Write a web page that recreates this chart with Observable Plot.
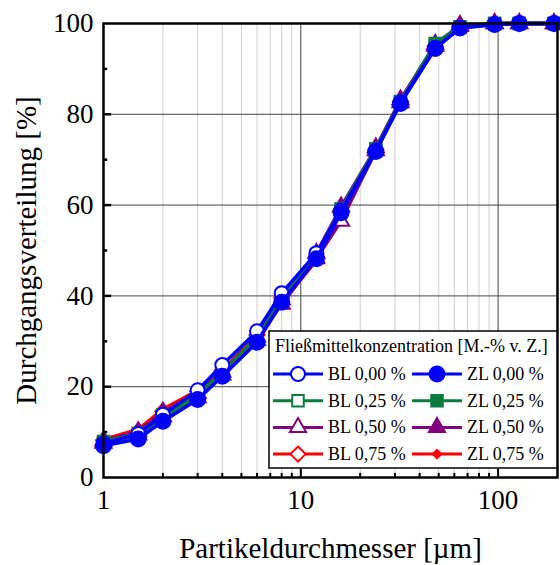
<!DOCTYPE html>
<html><head><meta charset="utf-8">
<script src="https://cdn.jsdelivr.net/npm/d3@7"></script>
<script src="https://cdn.jsdelivr.net/npm/@observablehq/plot@0.6"></script>
<style>
body{margin:0;background:#fff}
#chart{position:relative;width:560px;height:565px}
</style>
</head><body><div id="chart"></div>
<script>
const sizes = [1, 1.5, 2, 3, 4, 6, 8, 12, 16, 24, 32, 48, 64, 96, 128, 192];
const BL_000 = [7.5, 9.6, 13.8, 19.2, 24.8, 32.2, 40.6, 49.4, 58.8, 72.0, 82.6, 94.6, 99.0, 99.8, 100, 100];
const ZL_000 = [7.0, 8.5, 12.4, 17.2, 22.3, 29.8, 38.6, 48.2, 58.3, 71.8, 82.4, 94.5, 99.0, 99.8, 100, 100];
const BL_025 = [7.6, 9.3, 13.2, 17.8, 23.0, 30.8, 39.2, 48.6, 58.6, 72.0, 82.6, 95.0, 99.2, 100, 100, 100];
const ZL_025 = [7.9, 9.7, 13.8, 18.2, 23.2, 31.0, 39.4, 49.0, 59.2, 72.4, 82.8, 95.6, 99.3, 100, 100, 100];
const BL_050 = [7.6, 9.4, 13.4, 17.6, 22.6, 30.2, 38.2, 48.2, 56.5, 72.0, 82.6, 95.0, 99.4, 100, 100, 100];
const ZL_050 = [8.1, 10.1, 14.4, 18.6, 23.2, 31.0, 39.2, 49.4, 59.6, 72.6, 83.2, 95.4, 99.6, 100, 100, 100];
const BL_075 = [8.2, 10.2, 14.6, 19.0, 23.6, 31.4, 39.6, 48.6, 58.8, 72.2, 82.8, 95.0, 99.3, 100, 100, 100];
const ZL_075 = [8.4, 10.6, 15.0, 19.2, 23.0, 30.6, 38.4, 47.8, 58.8, 72.0, 83.0, 95.2, 99.0, 100, 100, 100];

const seriesNames   = ["BL 0,00 %", "ZL 0,00 %", "BL 0,25 %", "ZL 0,25 %", "BL 0,50 %", "ZL 0,50 %", "BL 0,75 %", "ZL 0,75 %"];
const seriesValues  = [BL_000, ZL_000, BL_025, ZL_025, BL_050, ZL_050, BL_075, ZL_075];
const seriesColors  = ["#0000ff", "#0000ff", "#0a7d3c", "#0a7d3c", "#800080", "#800080", "#ff0000", "#ff0000"];
const seriesSymbols = ["circle", "circle", "square", "square", "triangle", "triangle", "diamond2", "diamond2"];
const seriesFilled  = [false, true, false, true, false, true, false, true];
const seriesR       = [7, 7.5, 6.5, 6.5, 6, 6, 6.8, 3.8];
const drawOrder     = [7, 6, 5, 4, 3, 2, 0, 1];

const xTicks = [1, 10, 100];
const xMinor = [2, 3, 4, 5, 6, 7, 8, 9, 20, 30, 40, 50, 60, 70, 80, 90];
const yTicks = [0, 20, 40, 60, 80, 100];
const yMinor = [10, 30, 50, 70, 90];
const legendTitle = "Fließmittelkonzentration [M.-% v. Z.]";
const xLabel = "Partikeldurchmesser [µm]";
const yLabel = "Durchgangsverteilung [%]";

const font = "'Liberation Serif','Times New Roman',serif";

const seriesMarks = [];
for (const i of drawOrder) {
  const rows = sizes.map((x, j) => ({x, y: seriesValues[i][j]}));
  seriesMarks.push(Plot.line(rows, {x: "x", y: "y", stroke: seriesColors[i], strokeWidth: 3.5}));
  seriesMarks.push(Plot.dot(rows, {
    x: "x", y: "y", symbol: seriesSymbols[i], r: seriesR[i],
    fill: seriesFilled[i] ? seriesColors[i] : "white",
    stroke: seriesColors[i], strokeWidth: 2
  }));
}

const chart = Plot.plot({
  width: 560, height: 565,
  marginLeft: 103, marginRight: 3, marginTop: 23, marginBottom: 88,
  x: {type: "log", domain: [1, 200]},
  y: {domain: [0, 100]},
  style: {fontFamily: font, fontSize: "27px", color: "black", background: "white"},
  marks: [
    Plot.ruleX(xMinor, {stroke: "#d0d0d0", strokeWidth: 1}),
    Plot.ruleX([10, 100], {stroke: "#444", strokeWidth: 1}),
    Plot.ruleY([20, 40, 60, 80], {stroke: "#444", strokeWidth: 1}),
    Plot.ruleX(xMinor, {y1: 0, y2: 0.9, stroke: "black", strokeWidth: 2}),
    Plot.ruleX([10, 100], {y1: 0, y2: 1.8, stroke: "black", strokeWidth: 2}),
    Plot.ruleY(yMinor, {x1: 1, x2: 1.05, stroke: "black", strokeWidth: 2.5}),
    Plot.ruleY([20, 40, 60, 80], {x1: 1, x2: 1.1, stroke: "black", strokeWidth: 2.5}),
    ...seriesMarks,
    Plot.frame({stroke: "black", strokeWidth: 2.5}),
    Plot.axisX(xTicks, {tickSize: 0, tickPadding: 12, tickFormat: d => String(d), label: null, fontSize: 27}),
    Plot.axisY(yTicks, {tickSize: 0, tickPadding: 10, tickFormat: d => String(d), label: null, fontSize: 27}),
    Plot.text([xLabel], {text: d => d, frameAnchor: "bottom", dy: 80, textAnchor: "middle", lineAnchor: "bottom", fontSize: 29}),
    Plot.text([yLabel], {text: d => d, frameAnchor: "left", dx: -68, rotate: -90, textAnchor: "middle", lineAnchor: "bottom", fontSize: 29})
  ]
});

// Legend box inside the plot area
const svg = d3.select(chart);
const lg = svg.append("g").attr("font-family", font).attr("fill", "black").attr("text-anchor", "start");
lg.append("rect").attr("x", 269).attr("y", 331).attr("width", 288).attr("height", 137)
  .attr("fill", "white").attr("stroke", "black").attr("stroke-width", 1.5);
lg.append("text").attr("x", 275).attr("y", 352).attr("font-size", 18).attr("text-anchor", "start").text(legendTitle);
const symMap = {circle: d3.symbolCircle, square: d3.symbolSquare, triangle: d3.symbolTriangle, diamond2: d3.symbolDiamond2};
seriesNames.forEach((name, i) => {
  const row = Math.floor(i / 2), col = i % 2;
  const cy = 374 + row * 26.7;
  const x0 = col === 0 ? 273 : 412;
  lg.append("line").attr("x1", x0).attr("x2", x0 + 50).attr("y1", cy).attr("y2", cy)
    .attr("stroke", seriesColors[i]).attr("stroke-width", 3);
  lg.append("path")
    .attr("d", d3.symbol(symMap[seriesSymbols[i]], Math.PI * seriesR[i] * seriesR[i])())
    .attr("transform", `translate(${x0 + 25},${cy})`)
    .attr("fill", seriesFilled[i] ? seriesColors[i] : "white")
    .attr("stroke", seriesColors[i]).attr("stroke-width", 2);
  lg.append("text").attr("x", x0 + 55).attr("y", cy + 6).attr("font-size", 18).attr("text-anchor", "start").text(name);
});

document.getElementById("chart").appendChild(chart);
</script>
</body></html>
